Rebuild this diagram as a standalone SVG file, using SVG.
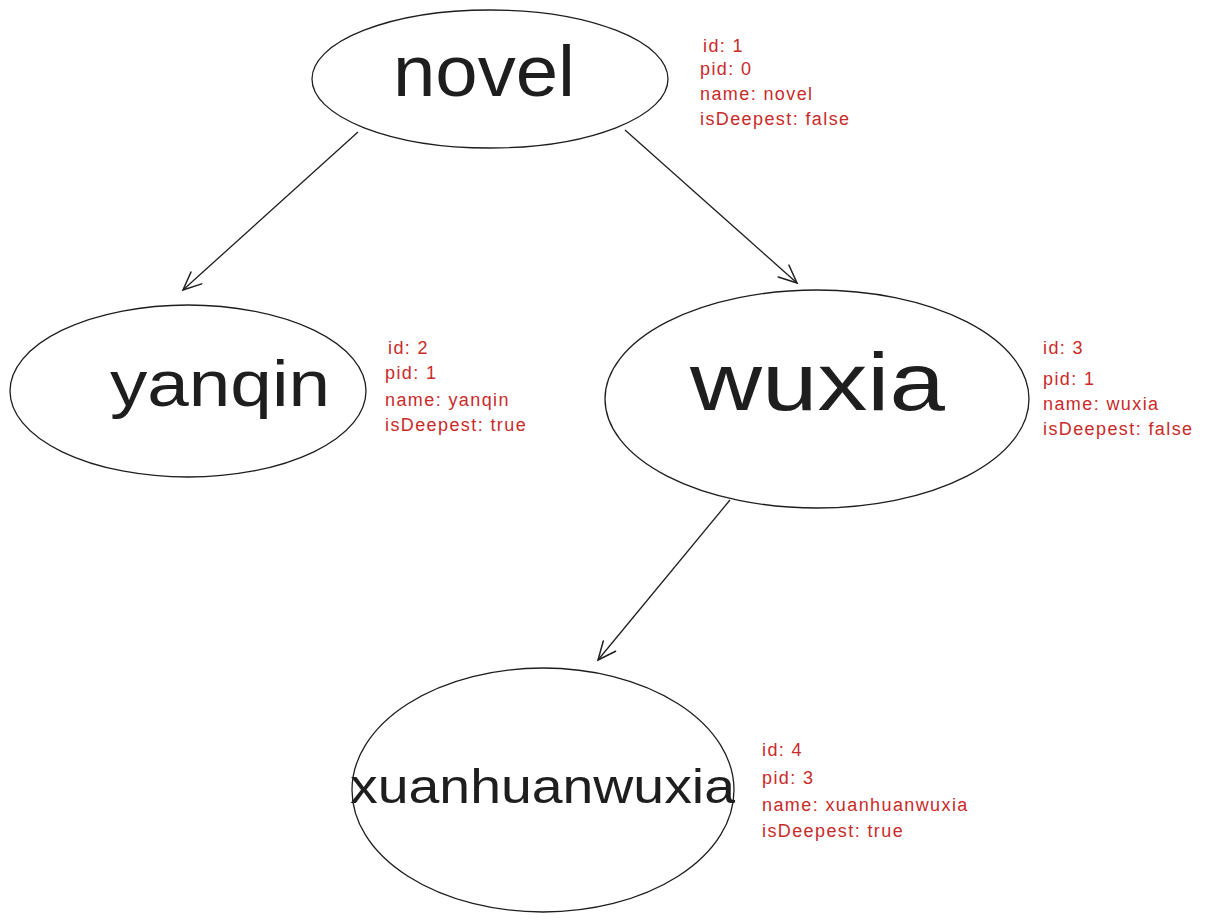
<svg xmlns="http://www.w3.org/2000/svg" width="1214" height="923" viewBox="0 0 1214 923">
<defs>
<marker id="arr" markerWidth="22" markerHeight="22" refX="20" refY="11" orient="auto" markerUnits="userSpaceOnUse">
<path d="M2,3 L20,11 L2,19" fill="none" stroke="#1e1e1e" stroke-width="1.5" stroke-linecap="round"/>
</marker>
</defs>
<style>
.node{fill:#fff;stroke:#1e1e1e;stroke-width:1.3}
.big{font-family:"Liberation Sans",sans-serif;fill:#1e1e1e;text-anchor:start}
.lbl{font-family:"Liberation Sans",sans-serif;font-size:18px;letter-spacing:1.4px;fill:#c92a2a}
.edge{fill:none;stroke:#1e1e1e;stroke-width:1.3;marker-end:url(#arr)}
</style>
<rect width="1214" height="923" fill="#fff"/>
<g id="connectors">
<path class="edge" d="M358,132 L183,290"/>
<path class="edge" d="M625,130 L797,283"/>
<path class="edge" d="M730,500 L598,660"/>
</g>
<g id="node-novel">
<ellipse class="node" cx="490" cy="79" rx="178" ry="69"/>
<text class="big" x="393" y="96" font-size="72" textLength="182" lengthAdjust="spacingAndGlyphs">novel</text>
</g>
<g id="node-yanqin">
<ellipse class="node" cx="188" cy="391" rx="178" ry="86"/>
<text class="big" x="110" y="406" font-size="64" textLength="220" lengthAdjust="spacingAndGlyphs">yanqin</text>
</g>
<g id="node-wuxia">
<ellipse class="node" cx="817" cy="399" rx="212" ry="109"/>
<text class="big" x="690" y="410" font-size="82" textLength="255" lengthAdjust="spacingAndGlyphs">wuxia</text>
</g>
<g id="node-xuanhuanwuxia">
<ellipse class="node" cx="543" cy="790" rx="191" ry="122"/>
<text class="big" x="350" y="803" font-size="48" textLength="385" lengthAdjust="spacingAndGlyphs">xuanhuanwuxia</text>
</g>
<g id="label-1">
<text class="lbl" x="703" y="52">id: 1</text>
<text class="lbl" x="700" y="75">pid: 0</text>
<text class="lbl" x="700" y="100">name: novel</text>
<text class="lbl" x="700" y="125">isDeepest: false</text>
</g>
<g id="label-2">
<text class="lbl" x="388" y="354">id: 2</text>
<text class="lbl" x="385" y="379">pid: 1</text>
<text class="lbl" x="385" y="406">name: yanqin</text>
<text class="lbl" x="385" y="431">isDeepest: true</text>
</g>
<g id="label-3">
<text class="lbl" x="1043" y="354">id: 3</text>
<text class="lbl" x="1043" y="385">pid: 1</text>
<text class="lbl" x="1043" y="410">name: wuxia</text>
<text class="lbl" x="1043" y="435">isDeepest: false</text>
</g>
<g id="label-4">
<text class="lbl" x="762" y="756">id: 4</text>
<text class="lbl" x="762" y="784">pid: 3</text>
<text class="lbl" x="762" y="811">name: xuanhuanwuxia</text>
<text class="lbl" x="762" y="837">isDeepest: true</text>
</g>
</svg>
